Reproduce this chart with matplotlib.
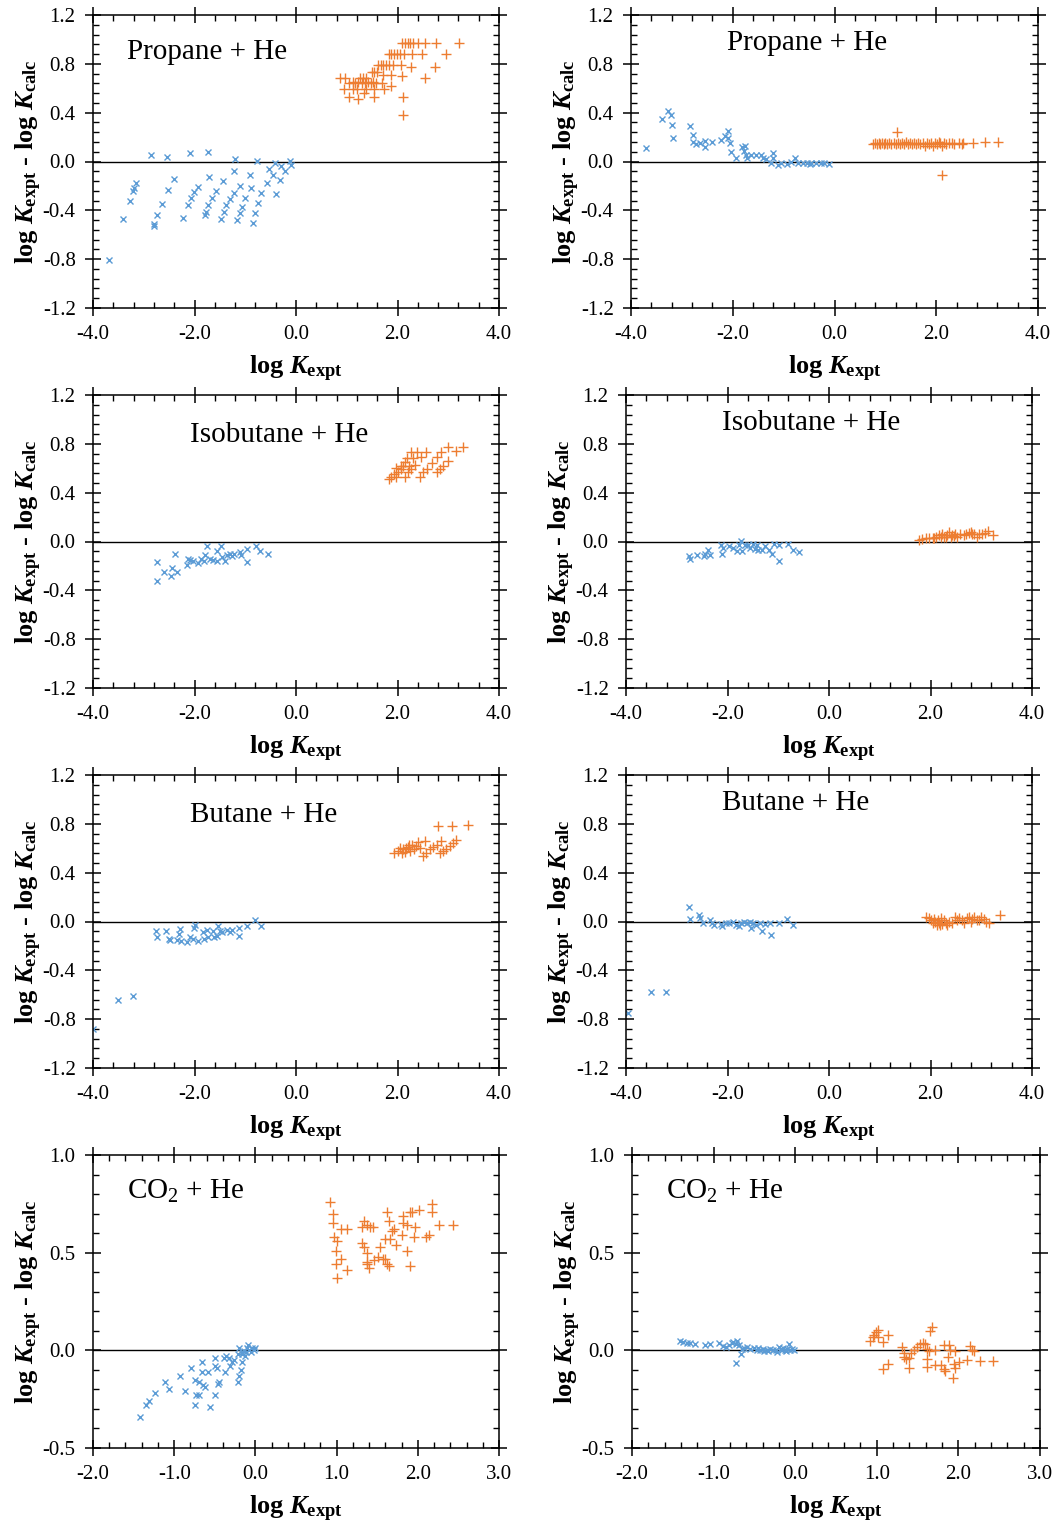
import matplotlib
matplotlib.use("Agg")
import matplotlib.pyplot as plt
from matplotlib.ticker import MultipleLocator, FormatStrFormatter

plt.rcParams['font.family'] = 'Liberation Serif'
plt.rcParams['mathtext.fontset'] = 'custom'
plt.rcParams['mathtext.rm'] = 'Liberation Serif'
plt.rcParams['mathtext.it'] = 'Liberation Serif:italic'
plt.rcParams['mathtext.bf'] = 'Liberation Serif:bold'
plt.rcParams['mathtext.bfit'] = 'Liberation Serif:italic:bold'
plt.rcParams['axes.unicode_minus'] = False

BLUE = '#5b9bd5'
ORANGE = '#ed7d31'

# -----------------------------
# Data: propane + He
# -----------------------------
propane_a_lo_x = [-2.85, -2.55, -2.09, -1.74, -1.21, -0.76, -0.12, -0.10, -0.22, -0.29, -0.41, -0.54,
                  -0.46, -0.31, -0.58, -0.68, -0.39, -0.75, -0.81, -0.85, -0.90, -0.89, -1.00, -1.07,
                  -1.11, -1.16, -1.11, -1.23, -1.23, -1.31, -1.38, -1.42, -1.48, -1.43, -1.57, -1.66,
                  -1.73, -1.77, -1.79, -1.72, -1.93, -2.01, -2.07, -2.13, -2.22, -2.40, -2.53, -2.65,
                  -2.73, -2.79, -2.79, -3.16, -3.20, -3.22, -3.28, -3.40, -3.69]
propane_a_lo_y = [0.055, 0.04, 0.07, 0.074, 0.02, 0.005, 0.005, -0.03, -0.08, -0.04, -0.01, -0.06,
                  -0.11, -0.15, -0.18, -0.26, -0.27, -0.34, -0.42, -0.50, -0.11, -0.22, -0.30, -0.37,
                  -0.42, -0.48, -0.20, -0.08, -0.26, -0.31, -0.36, -0.41, -0.47, -0.16, -0.24, -0.30,
                  -0.36, -0.41, -0.44, -0.13, -0.21, -0.25, -0.30, -0.36, -0.46, -0.14, -0.23, -0.35,
                  -0.44, -0.51, -0.53, -0.18, -0.22, -0.24, -0.32, -0.47, -0.81]
propane_a_hi_x = [2.09, 2.14, 2.20, 2.25, 2.30, 2.41, 2.54, 2.75, 3.21,
                  1.83, 1.88, 1.93, 1.99, 2.04, 2.12, 2.28, 2.49, 2.96,
                  1.62, 1.67, 1.72, 1.78, 1.83, 1.91, 2.07, 2.26, 2.73,
                  1.49, 1.54, 1.59, 1.71, 1.87, 2.09, 2.54,
                  0.87, 0.96, 1.27, 1.32, 1.38, 1.13, 1.23, 1.42, 1.52,
                  1.05, 1.17, 1.31, 1.36, 1.47, 1.57, 1.70, 1.88,
                  0.95, 1.12, 1.21, 1.37, 1.53, 1.73, 1.34, 1.04, 1.53, 2.11, 1.23, 2.11]
propane_a_hi_y = [0.97, 0.97, 0.97, 0.97, 0.97, 0.97, 0.97, 0.97, 0.97,
                  0.88, 0.88, 0.88, 0.88, 0.88, 0.88, 0.88, 0.88, 0.88,
                  0.79, 0.79, 0.79, 0.79, 0.79, 0.79, 0.79, 0.77, 0.77,
                  0.73, 0.73, 0.73, 0.71, 0.71, 0.70, 0.68,
                  0.68, 0.68, 0.68, 0.68, 0.68, 0.65, 0.65, 0.65, 0.65,
                  0.64, 0.64, 0.64, 0.64, 0.64, 0.64, 0.64, 0.62,
                  0.59, 0.59, 0.59, 0.59, 0.59, 0.59, 0.56, 0.53, 0.53, 0.53, 0.51, 0.38]

propane_b_lo_x = [-3.70, -3.40, -3.28, -3.21, -3.19, -3.17, -2.85, -2.79, -2.79, -2.72, -2.64, -2.54,
                  -2.55, -2.41, -2.23, -2.15, -2.10, -2.09, -2.06, -2.03, -1.93, -1.82, -1.76, -1.77,
                  -1.73, -1.72, -1.64, -1.54, -1.44, -1.41, -1.35, -1.25, -1.21, -1.20, -1.12, -1.06,
                  -0.93, -0.85, -0.78, -0.72, -0.62, -0.54, -0.46, -0.36, -0.26, -0.20, -0.10, -0.49]
propane_b_lo_y = [0.11, 0.35, 0.41, 0.38, 0.30, 0.19, 0.29, 0.22, 0.16, 0.14, 0.15, 0.17,
                  0.12, 0.16, 0.18, 0.21, 0.25, 0.19, 0.15, 0.08, 0.03, 0.12, 0.13, 0.09,
                  0.05, 0.03, 0.05, 0.05, 0.05, 0.03, 0.02, -0.01, 0.07, 0.03, -0.03, -0.01,
                  -0.02, 0.00, 0.03, -0.01, -0.01, -0.01, -0.01, -0.01, -0.01, -0.01, -0.02, -0.02]
propane_b_hi_x = [0.75, 0.79, 0.83, 0.87, 0.90, 0.93, 0.97, 1.00, 1.04, 1.08, 1.12, 1.16, 1.23,
                  1.20, 1.25, 1.29, 1.33, 1.37, 1.41, 1.45, 1.49, 1.53, 1.57, 1.61, 1.65, 1.69,
                  1.73, 1.77, 1.82, 1.86, 1.90, 1.94, 1.98, 2.02, 2.05, 2.08, 2.11, 2.12, 2.16,
                  2.20, 2.25, 2.30, 2.35, 2.45, 2.50, 2.52, 2.72, 2.95, 3.21]
propane_b_hi_y = [0.14, 0.15, 0.14, 0.15, 0.14, 0.15, 0.14, 0.15, 0.14, 0.15, 0.14, 0.15, 0.24,
                  0.14, 0.15, 0.14, 0.15, 0.14, 0.16, 0.14, 0.15, 0.14, 0.15, 0.14, 0.15, 0.14,
                  0.15, 0.13, 0.15, 0.14, 0.15, 0.13, 0.15, 0.14, 0.16, 0.15, -0.11, 0.13, 0.15,
                  0.14, 0.15, 0.15, 0.14, 0.15, 0.14, 0.15, 0.15, 0.16, 0.16]

# -----------------------------
# Data: isobutane + He
# -----------------------------
isobutane_a_lo_x = [-2.74, -2.74, -2.60, -2.45, -2.46, -2.34, -2.39, -2.15, -2.13, -2.09, -2.02, -1.94,
                    -1.87, -1.82, -1.79, -1.75, -1.69, -1.63, -1.56, -1.56, -1.48, -1.45, -1.40, -1.36,
                    -1.30, -1.27, -1.22, -1.11, -1.08, -0.97, -0.97, -0.79, -0.71, -0.56]
isobutane_a_lo_y = [-0.17, -0.32, -0.25, -0.22, -0.28, -0.25, -0.10, -0.19, -0.14, -0.15, -0.16, -0.18,
                    -0.14, -0.16, -0.11, -0.04, -0.14, -0.15, -0.16, -0.08, -0.04, -0.13, -0.16, -0.11,
                    -0.10, -0.12, -0.10, -0.09, -0.11, -0.06, -0.17, -0.04, -0.08, -0.10]
isobutane_a_hi_x = [1.83, 1.88, 1.93, 1.98, 2.01, 2.07, 2.11, 2.15, 2.18, 2.26, 2.39, 2.56,
                    2.14, 2.21, 2.27, 2.34, 2.31, 2.47, 2.44, 2.51, 2.58, 2.67, 2.77, 2.85,
                    3.00, 2.77, 2.83, 2.90, 3.00, 3.16, 3.29, 2.06, 1.98, 2.23]
isobutane_a_hi_y = [0.51, 0.53, 0.55, 0.53, 0.57, 0.59, 0.62, 0.65, 0.68, 0.73, 0.73, 0.73,
                    0.53, 0.57, 0.59, 0.63, 0.68, 0.69, 0.53, 0.57, 0.59, 0.64, 0.69, 0.73,
                    0.77, 0.57, 0.59, 0.62, 0.66, 0.74, 0.77, 0.62, 0.60, 0.62]

isobutane_b_lo_x = [-2.75, -2.74, -2.61, -2.47, -2.44, -2.39, -2.34, -2.12, -2.11, -2.08, -1.98, -1.89,
                    -1.82, -1.77, -1.74, -1.71, -1.66, -1.59, -1.55, -1.49, -1.46, -1.41, -1.39, -1.32,
                    -1.27, -1.19, -1.12, -1.08, -0.99, -0.98, -0.80, -0.71, -0.59]
isobutane_b_lo_y = [-0.12, -0.14, -0.11, -0.12, -0.10, -0.07, -0.11, -0.03, -0.10, -0.05, -0.04, -0.05,
                    -0.08, -0.03, 0.005, -0.08, -0.03, -0.03, -0.05, -0.02, -0.06, -0.03, -0.07, -0.07,
                    -0.04, -0.07, -0.10, -0.02, -0.16, -0.03, -0.02, -0.07, -0.09]
isobutane_b_hi_x = [1.78, 1.84, 1.91, 1.97, 2.04, 2.10, 2.17, 2.23, 2.27, 2.33, 2.36, 2.43, 2.49,
                    2.53, 2.59, 2.69, 2.75, 2.79, 2.82, 2.85, 2.92, 2.95, 3.01, 3.08, 3.14, 3.24,
                    2.07, 2.20, 2.30, 2.40, 2.46, 2.66]
isobutane_b_hi_y = [0.016, 0.02, 0.025, 0.025, 0.03, 0.04, 0.05, 0.06, 0.035, 0.05, 0.075, 0.05, 0.06,
                    0.035, 0.06, 0.065, 0.07, 0.075, 0.06, 0.065, 0.04, 0.06, 0.06, 0.07, 0.085, 0.05,
                    0.025, 0.035, 0.04, 0.035, 0.045, 0.05]

# -----------------------------
# Data: butane + He
# -----------------------------
butane_a_lo_x = [-4.00, -3.51, -3.22, -2.76, -2.74, -2.56, -2.51, -2.49, -2.35, -2.31, -2.29, -2.27,
                 -2.14, -2.09, -2.02, -2.01, -2.00, -1.94, -1.84, -1.82, -1.76, -1.74, -1.64, -1.61,
                 -1.56, -1.53, -1.50, -1.46, -1.36, -1.30, -1.27, -1.13, -1.12, -0.96, -0.81, -0.69]
butane_a_lo_y = [-0.88, -0.64, -0.61, -0.08, -0.13, -0.08, -0.14, -0.15, -0.15, -0.10, -0.06, -0.16,
                 -0.17, -0.13, -0.14, -0.05, -0.03, -0.16, -0.09, -0.14, -0.07, -0.13, -0.08, -0.13,
                 -0.12, -0.04, -0.08, -0.09, -0.07, -0.09, -0.07, -0.05, -0.12, -0.04, 0.01, -0.04]
butane_a_hi_x = [1.93, 2.01, 2.08, 2.11, 2.16, 2.21, 2.24, 2.28, 2.32, 2.37, 2.41, 2.54, 2.44,
                 2.50, 2.57, 2.64, 2.70, 2.77, 2.85, 2.83, 2.90, 2.96, 3.03, 3.10, 3.16,
                 2.79, 3.08, 3.39, 2.05, 2.14, 2.23]
butane_a_hi_y = [0.56, 0.58, 0.56, 0.59, 0.60, 0.61, 0.58, 0.63, 0.59, 0.62, 0.65, 0.66, 0.60,
                 0.54, 0.56, 0.59, 0.61, 0.63, 0.66, 0.56, 0.58, 0.59, 0.62, 0.64, 0.67,
                 0.78, 0.78, 0.79, 0.60, 0.57, 0.63]

butane_b_lo_x = [-3.97, -3.51, -3.21, -2.76, -2.74, -2.57, -2.55, -2.49, -2.34, -2.31, -2.26, -2.13,
                 -2.10, -2.03, -1.97, -1.90, -1.84, -1.77, -1.74, -1.68, -1.61, -1.56, -1.53, -1.49,
                 -1.43, -1.36, -1.32, -1.27, -1.16, -1.14, -0.98, -0.82, -0.70]
butane_b_lo_y = [-0.75, -0.575, -0.575, 0.12, 0.02, 0.05, 0.03, -0.01, 0.01, -0.01, -0.03, -0.02,
                 -0.04, -0.015, -0.015, -0.005, -0.03, -0.035, -0.01, -0.005, -0.015, 0.0, -0.055, -0.015,
                 -0.03, -0.01, -0.08, -0.02, -0.01, -0.11, -0.01, 0.02, -0.03]
butane_b_hi_x = [1.91, 1.97, 2.01, 2.06, 2.08, 2.14, 2.17, 2.20, 2.23, 2.27, 2.30, 2.33, 2.36, 2.43,
                 2.49, 2.53, 2.56, 2.62, 2.66, 2.72, 2.76, 2.79, 2.82, 2.86, 2.91, 2.95, 3.00, 3.05,
                 3.10, 3.15, 2.04, 2.12, 2.19, 3.36]
butane_b_hi_y = [0.035, 0.03, 0.01, 0.02, -0.005, 0.01, -0.015, 0.03, -0.02, 0.01, -0.01, -0.03, 0.0, -0.01,
                 0.035, 0.01, 0.03, 0.015, -0.01, 0.03, 0.04, -0.005, 0.02, 0.04, 0.015, 0.01, 0.035, 0.02,
                 -0.005, -0.01, -0.01, -0.03, -0.03, 0.05]

# -----------------------------
# Data: CO2 + He
# -----------------------------
co2_a_lo_x = [-1.42, -1.35, -1.31, -1.24, -1.11, -1.06, -0.93, -0.87, -0.79, -0.75, -0.74, -0.73,
              -0.69, -0.69, -0.66, -0.66, -0.64, -0.62, -0.58, -0.56, -0.50, -0.50, -0.50, -0.47,
              -0.45, -0.46, -0.39, -0.37, -0.36, -0.33, -0.31, -0.29, -0.26, -0.22, -0.20, -0.18,
              -0.21, -0.20, -0.16, -0.16, -0.13, -0.11, -0.09, -0.08, -0.06, -0.04, -0.02, -0.01,
              -0.10, -0.14, -0.17]
co2_a_lo_y = [-0.34, -0.28, -0.26, -0.22, -0.16, -0.20, -0.13, -0.21, -0.09, -0.15, -0.28, -0.23,
              -0.23, -0.16, -0.06, -0.11, -0.18, -0.19, -0.11, -0.29, -0.23, -0.04, -0.08, -0.09,
              -0.16, -0.17, -0.04, -0.11, -0.03, -0.04, -0.08, -0.06, -0.05, -0.16, -0.13, -0.10,
              -0.02, 0.01, -0.06, -0.02, -0.03, -0.01, 0.025, 0.0, -0.01, 0.01, 0.0, 0.01,
              0.01, -0.005, -0.01]
co2_a_hi_x = [0.92, 0.95, 0.95, 0.97, 1.00, 0.99, 1.06, 0.99, 1.00, 1.13, 1.06, 1.13, 1.31, 1.34,
              1.37, 1.41, 1.45, 1.31, 1.34, 1.37, 1.38, 1.40, 1.37, 1.46, 1.51, 1.54, 1.57, 1.60,
              1.62, 1.64, 1.59, 1.62, 1.65, 1.68, 1.71, 1.66, 1.73, 1.80, 1.82, 1.82, 1.87, 1.87,
              1.90, 1.91, 1.93, 1.96, 1.95, 2.02, 2.10, 2.14, 2.18, 2.18, 2.26, 2.43]
co2_a_hi_y = [0.76, 0.70, 0.65, 0.58, 0.56, 0.51, 0.47, 0.44, 0.37, 0.41, 0.62, 0.62, 0.63, 0.66,
              0.64, 0.63, 0.63, 0.55, 0.53, 0.50, 0.45, 0.42, 0.44, 0.46, 0.48, 0.53, 0.47, 0.47,
              0.44, 0.43, 0.57, 0.71, 0.66, 0.61, 0.62, 0.57, 0.54, 0.59, 0.69, 0.65, 0.64, 0.51,
              0.71, 0.43, 0.71, 0.63, 0.58, 0.72, 0.58, 0.59, 0.75, 0.71, 0.64, 0.64]

co2_b_lo_x = [-1.41, -1.37, -1.33, -1.29, -1.23, -1.11, -1.05, -0.93, -0.89, -0.85, -0.81, -0.78,
              -0.76, -0.73, -0.71, -0.69, -0.67, -0.65, -0.73, -0.63, -0.59, -0.55, -0.51, -0.47,
              -0.43, -0.39, -0.35, -0.31, -0.27, -0.22, -0.20, -0.18, -0.16, -0.13, -0.10, -0.08,
              -0.06, -0.04, -0.02, -0.45, -0.38, -0.33, -0.24, -0.15, -0.11]
co2_b_lo_y = [0.046, 0.042, 0.04, 0.037, 0.03, 0.025, 0.03, 0.035, 0.022, 0.017, 0.025, 0.035,
              0.042, 0.03, 0.05, 0.025, -0.017, 0.008, -0.063, 0.012, 0.017, 0.008, 0.012, 0.003,
              0.0, 0.008, 0.003, 0.008, 0.0, -0.008, 0.017, 0.008, 0.0, 0.003, 0.008, 0.034,
              0.0, 0.005, 0.0, 0.012, -0.005, -0.003, 0.003, 0.012, -0.003]
co2_b_hi_x = [0.92, 0.95, 0.97, 0.99, 1.01, 1.02, 1.07, 1.14, 1.07, 1.14, 1.31, 1.33, 1.33, 1.36,
              1.39, 1.40, 1.42, 1.46, 1.49, 1.53, 1.57, 1.59, 1.61, 1.61, 1.62, 1.64, 1.65, 1.68,
              1.71, 1.71, 1.79, 1.82, 1.82, 1.84, 1.87, 1.88, 1.90, 1.93, 1.94, 1.96, 1.96, 2.01,
              2.10, 2.14, 2.17, 2.19, 2.27, 2.43]
co2_b_hi_y = [0.046, 0.068, 0.076, 0.093, 0.105, 0.068, 0.042, 0.081, -0.097, -0.068, 0.017, -0.012,
              -0.034, -0.046, -0.039, -0.093, -0.014, 0.0, 0.017, 0.03, 0.039, 0.034, -0.042, -0.085,
              0.005, -0.005, 0.10, 0.12, 0.0, -0.076, -0.076, 0.029, -0.097, -0.107, -0.034, 0.029,
              0.0, -0.14, -0.068, -0.005, -0.093, -0.059, -0.047, 0.022, 0.0, -0.005, -0.054, -0.054]

# -----------------------------
# Figure layout (pixel boxes: left, top, right)
# -----------------------------
W, H = 1058, 1526
fig = plt.figure(figsize=(W / 100, H / 100), dpi=100)

AX_H = 293
panels = [
    # (left, top, right, lo_x, lo_y, hi_x, hi_y, title, title_pos, co2)
    (93, 15, 499, propane_a_lo_x, propane_a_lo_y, propane_a_hi_x, propane_a_hi_y,
     'Propane + He', (0.084, 0.875), False),
    (631, 15, 1038, propane_b_lo_x, propane_b_lo_y, propane_b_hi_x, propane_b_hi_y,
     'Propane + He', (0.236, 0.906), False),
    (93, 395, 499, isobutane_a_lo_x, isobutane_a_lo_y, isobutane_a_hi_x, isobutane_a_hi_y,
     'Isobutane + He', (0.239, 0.862), False),
    (626, 395, 1032, isobutane_b_lo_x, isobutane_b_lo_y, isobutane_b_hi_x, isobutane_b_hi_y,
     'Isobutane + He', (0.236, 0.903), False),
    (93, 775, 499, butane_a_lo_x, butane_a_lo_y, butane_a_hi_x, butane_a_hi_y,
     'Butane + He', (0.239, 0.862), False),
    (626, 775, 1032, butane_b_lo_x, butane_b_lo_y, butane_b_hi_x, butane_b_hi_y,
     'Butane + He', (0.236, 0.903), False),
    (93, 1155, 499, co2_a_lo_x, co2_a_lo_y, co2_a_hi_x, co2_a_hi_y,
     'CO$_2$ + He', (0.084, 0.875), True),
    (632, 1155, 1040, co2_b_lo_x, co2_b_lo_y, co2_b_hi_x, co2_b_hi_y,
     'CO$_2$ + He', (0.083, 0.875), True),
]

ylab = r'$\mathbf{log}\ \mathbfit{K}_{\mathbf{expt}}$ - $\mathbf{log}\ \mathbfit{K}_{\mathbf{calc}}$'
xlab = r'$\mathbf{log}\ \mathbfit{K}_{\mathbf{expt}}$'

for left, top, right, lx, ly, hx, hy, title, tpos, co2 in panels:
    ax = fig.add_axes([left / W, 1 - (top + AX_H) / H, (right - left) / W, AX_H / H])
    ax.axhline(0, color='black', lw=1.0, zorder=1)
    ax.plot(lx, ly, ls='none', marker='x', ms=4.2, mew=1.0, color=BLUE, zorder=2)
    ax.plot(hx, hy, ls='none', marker='+', ms=6.5, mew=1.0, color=ORANGE, zorder=2)

    if co2:
        ax.set_xlim(-2.0, 3.0)
        ax.set_ylim(-0.5, 1.0)
        ax.xaxis.set_major_locator(MultipleLocator(1.0))
        ax.xaxis.set_minor_locator(MultipleLocator(0.2))
        ax.yaxis.set_major_locator(MultipleLocator(0.5))
        ax.yaxis.set_minor_locator(MultipleLocator(0.1))
    else:
        ax.set_xlim(-4.0, 4.0)
        ax.set_ylim(-1.2, 1.2)
        ax.xaxis.set_major_locator(MultipleLocator(2.0))
        ax.xaxis.set_minor_locator(MultipleLocator(0.4))
        ax.yaxis.set_major_locator(MultipleLocator(0.4))
        ax.yaxis.set_minor_locator(MultipleLocator(0.08))
    ax.xaxis.set_major_formatter(FormatStrFormatter('%.1f'))
    ax.yaxis.set_major_formatter(FormatStrFormatter('%.1f'))

    ax.tick_params(which='major', direction='inout', length=11, width=1.1,
                   top=True, right=True, labelsize=15)
    ax.tick_params(which='minor', direction='in', length=4, width=1.0, top=True, right=True)
    ax.tick_params(axis='x', which='major', pad=7)
    ax.tick_params(axis='y', which='major', pad=7)
    for sp in ax.spines.values():
        sp.set_linewidth(1.1)

    ax.text(tpos[0], tpos[1], title, transform=ax.transAxes, fontsize=21,
            ha='left', va='center')

    ax.set_xlabel(xlab, fontsize=19, va='center')
    ax.xaxis.set_label_coords(0.5, -0.207)
    ax.set_ylabel(ylab, fontsize=19, fontweight='bold', va='center')
    ax.yaxis.set_label_coords(-0.158, 0.5)

fig.savefig('out.png', dpi=100)
